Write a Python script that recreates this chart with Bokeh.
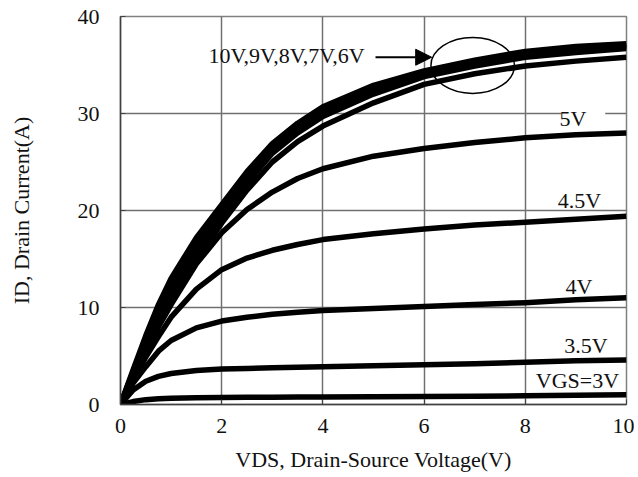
import math
from bokeh.plotting import figure
from bokeh.models import Range1d, Label, Arrow, NormalHead, BoxAnnotation, FixedTicker
from bokeh.embed import file_html
from bokeh.resources import INLINE

# Drain-source voltage (V)
vds = [0, 0.25, 0.5, 0.75, 1, 1.5, 2, 2.5, 3, 3.5, 4, 5, 6, 7, 8, 9, 10]

# Drain current (A) per gate voltage
id_10v = [0, 3.6, 7.1, 10.3, 13.0, 17.2, 20.6, 24.0, 26.9, 29.0, 30.7, 32.9, 34.4, 35.5, 36.4, 36.9, 37.2]
id_9v = [0, 3.4, 6.8, 9.9, 12.5, 16.7, 20.2, 23.6, 26.6, 28.7, 30.4, 32.6, 34.2, 35.3, 36.2, 36.7, 37.0]
id_8v = [0, 3.3, 6.5, 9.4, 12.0, 16.2, 19.7, 23.2, 26.2, 28.3, 30.0, 32.3, 34.0, 35.1, 36.0, 36.5, 36.9]
id_7v = [0, 3.1, 6.2, 9.0, 11.5, 15.7, 19.3, 22.8, 25.9, 28.0, 29.7, 32.0, 33.8, 34.9, 35.8, 36.3, 36.7]
id_6v = [0, 2.9, 5.7, 8.4, 10.8, 14.9, 18.7, 22.1, 25.0, 27.1, 28.7, 31.1, 33.0, 34.1, 34.9, 35.4, 35.8]
id_5v = [0, 2.7, 5.4, 8.0, 10.3, 14.5, 17.7, 20.1, 21.9, 23.3, 24.3, 25.6, 26.4, 27.0, 27.5, 27.8, 28.0]
id_4_5v = [0, 2.5, 4.9, 7.0, 9.0, 11.9, 13.9, 15.1, 15.9, 16.5, 17.0, 17.6, 18.1, 18.5, 18.8, 19.1, 19.4]
id_4v = [0, 2.2, 3.9, 5.5, 6.6, 7.9, 8.6, 9.0, 9.3, 9.5, 9.7, 9.9, 10.1, 10.3, 10.5, 10.8, 11.0]
id_3_5v = [0, 1.5, 2.4, 2.9, 3.2, 3.5, 3.65, 3.7, 3.8, 3.85, 3.9, 4.0, 4.1, 4.2, 4.35, 4.5, 4.6]
id_3v = [0, 0.3, 0.5, 0.6, 0.65, 0.7, 0.72, 0.74, 0.76, 0.77, 0.78, 0.8, 0.83, 0.86, 0.9, 0.95, 1.0]

series = [id_10v, id_9v, id_8v, id_7v, id_6v, id_5v, id_4_5v, id_4v, id_3_5v, id_3v]

x_ticks = [0, 2, 4, 6, 8, 10]
y_ticks = [0, 10, 20, 30, 40]

FONT = "Liberation Serif"

p = figure(width=634, height=476, output_backend="svg", toolbar_location=None,
           x_range=Range1d(0, 10), y_range=Range1d(0, 40),
           min_border_left=120, min_border_right=8, min_border_top=16, min_border_bottom=72)
p.background_fill_color = "white"
p.border_fill_color = "white"
p.outline_line_color = "#808080"
p.outline_line_width = 1.5

for ax in (p.xaxis, p.yaxis):
    ax.axis_line_color = "#404040"
    ax.axis_line_width = 1.5
    ax.major_tick_in = 5
    ax.major_tick_out = 0
    ax.major_tick_line_color = "#404040"
    ax.minor_tick_line_color = None
    ax.major_label_text_font = FONT
    ax.major_label_text_font_size = "22px"
    ax.major_label_text_color = "#111111"
    ax.axis_label_text_font = FONT
    ax.axis_label_text_font_size = "22px"
    ax.axis_label_text_font_style = "normal"
    ax.axis_label_text_color = "#111111"
p.xaxis.ticker = FixedTicker(ticks=x_ticks)
p.yaxis.ticker = FixedTicker(ticks=y_ticks)
p.xaxis.major_label_standoff = 14
p.yaxis.major_label_standoff = 21
p.xaxis.axis_label = "VDS, Drain-Source Voltage(V)"
p.yaxis.axis_label = "ID, Drain Current(A)"
p.xaxis.axis_label_standoff = 11
p.yaxis.axis_label_standoff = 41

p.xgrid.ticker = FixedTicker(ticks=x_ticks)
p.ygrid.ticker = FixedTicker(ticks=y_ticks)
p.grid.grid_line_color = "#707070"
p.grid.grid_line_width = 1.5

for ys in series:
    p.line(vds, ys, line_color="black", line_width=5.5, line_join="round")

# white break behind "5V"
p.add_layout(BoxAnnotation(left=8.71, right=9.58, bottom=29.5, top=30.5,
                           fill_color="white", fill_alpha=1.0, line_color=None))

def lab(x, y, t, align="center"):
    p.add_layout(Label(x=x, y=y, text=t, text_font=FONT, text_font_size="22px",
                       text_align=align, text_baseline="middle", text_color="#111111"))

lab(1.74, 35.96, "10V,9V,8V,7V,6V", align="left")
lab(8.94, 29.44, "5V")
lab(9.07, 21.04, "4.5V")
lab(9.06, 12.12, "4V")
lab(9.2, 6.12, "3.5V")
lab(9.03, 2.52, "VGS=3V")

p.add_layout(Arrow(x_start=5.04, y_start=35.8, x_end=6.15, y_end=35.8,
                   line_color="black", line_width=2,
                   end=NormalHead(size=16, fill_color="black", line_color="black")))
p.ellipse(x=[6.96], y=[34.95], width=1.65, height=5.76, fill_color=None,
          line_color="black", line_width=1.5)

open("out.html", "w").write(file_html(p, INLINE))
